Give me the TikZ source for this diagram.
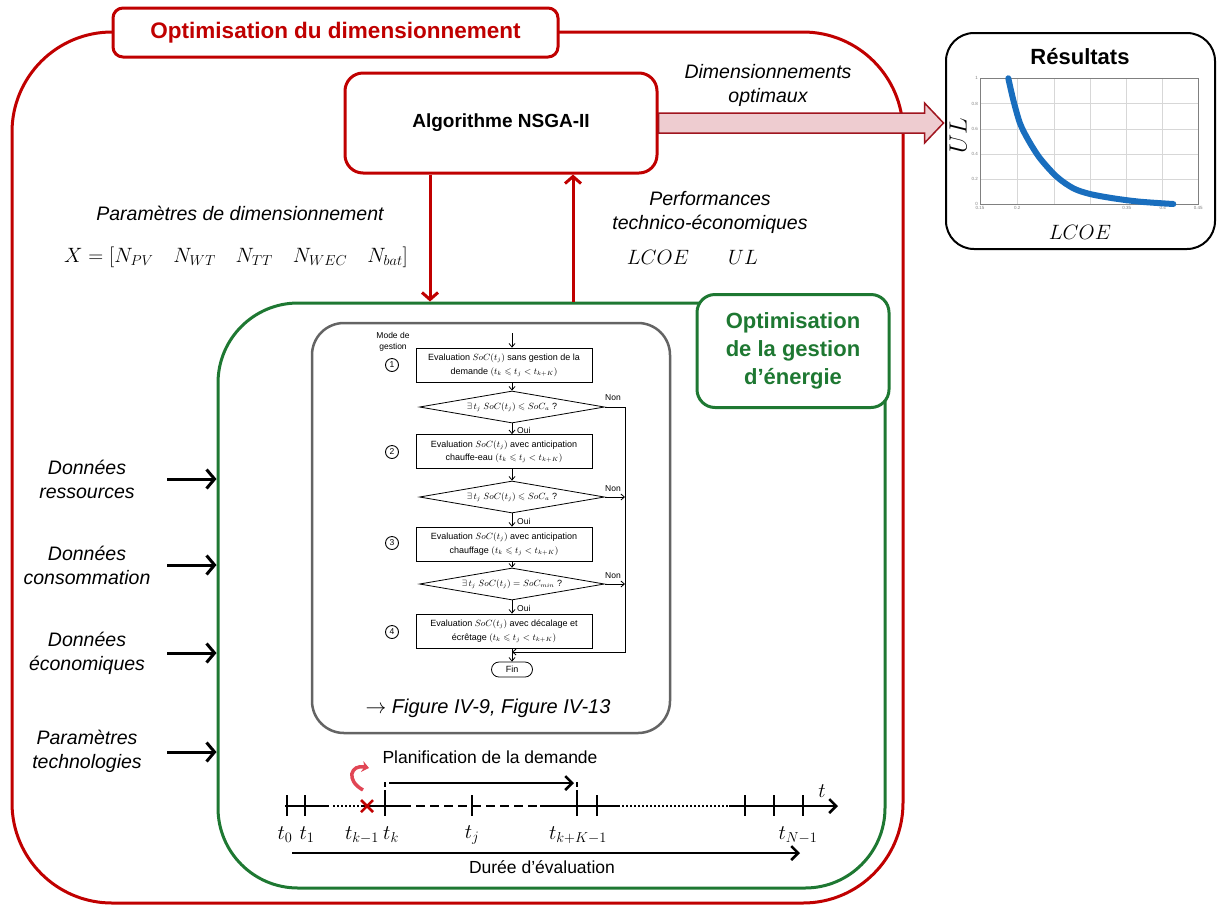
\documentclass[tikz,border=0pt]{standalone}
\usepackage{fontspec}
\setmainfont{Liberation Sans}
\usepackage{amsmath,amssymb}
\usetikzlibrary{arrows.meta,shapes.geometric,calc}
\definecolor{myred}{RGB}{192,0,0}
\definecolor{mygreen}{RGB}{30,120,50}
\definecolor{mygray}{RGB}{100,100,100}
\definecolor{myblue}{RGB}{25,110,190}
\definecolor{pinkfill}{RGB}{238,204,208}
\definecolor{darkred}{RGB}{160,20,30}
\definecolor{gridgray}{RGB}{215,215,215}
\definecolor{arrred}{RGB}{225,70,85}
\begin{document}
\begin{tikzpicture}[x=1pt,y=-1pt,
  redline/.style={draw=myred, line width=3pt},
  outerbox/.style={redline, rounded corners=100pt, inner sep=0pt},
  titlebox/.style={redline, fill=white, rounded corners=10pt, font=\fontsize{22.5}{26}\selectfont\bfseries, text=myred, inner sep=0pt},
  nsgabox/.style={redline, fill=white, rounded corners=18pt, font=\fontsize{19}{23}\selectfont\bfseries, inner sep=0pt},
  resbox/.style={draw=black, line width=2pt, rounded corners=28pt, fill=white, inner sep=0pt},
  greenbox/.style={draw=mygreen, line width=3pt, rounded corners=80pt, inner sep=0pt},
  greenlabel/.style={draw=mygreen, line width=3pt, rounded corners=18pt, fill=white, text=mygreen, font=\fontsize{22}{28}\selectfont\bfseries, align=center, inner sep=0pt},
  graybox/.style={draw=mygray, line width=2.5pt, rounded corners=32pt, inner sep=0pt},
  itext/.style={font=\fontsize{19.5}{24}\selectfont\itshape, align=center, inner sep=0pt},
  mtext/.style={font=\fontsize{20}{24}\selectfont, inner sep=0pt},
  redarr/.style={draw=myred, line width=3pt, -{Straight Barb[length=7pt,width=16pt]}},
  blkarr/.style={draw=black, line width=3pt, -{Straight Barb[length=8pt,width=19pt]}},
  tlarr/.style={draw=black, line width=2.5pt, -{Straight Barb[length=7pt,width=14pt]}},
  tl/.style={draw=black, line width=2.5pt},
  tick/.style={draw=black, line width=2pt},
  fbox/.style={draw, line width=0.8pt, minimum width=176pt, minimum height=34pt, inner sep=0pt, align=center, font=\fontsize{9}{13.5}\selectfont},
  fdia/.style={draw, line width=0.8pt, diamond, aspect=5.8, minimum width=185pt, minimum height=32pt, inner sep=0pt, font=\fontsize{9}{11}\selectfont},
  farr/.style={draw, line width=0.8pt, -{Straight Barb[length=3.5pt,width=6pt]}},
  flabel/.style={font=\fontsize{8.5}{11}\selectfont, inner sep=0pt},
  circnum/.style={draw, circle, line width=0.9pt, minimum size=13pt, inner sep=0pt, font=\fontsize{8.5}{9}\selectfont},
  tlabel/.style={font=\fontsize{17.5}{21}\selectfont, inner sep=0pt},
  tmath/.style={font=\fontsize{19.5}{22}\selectfont, inner sep=0pt},
  ticklab/.style={font=\fontsize{4.5}{5}\selectfont, text=gray, inner sep=0pt}
]
\useasboundingbox (0,0) rectangle (1218,906);

% outer red container
\node[outerbox, minimum width=891pt, minimum height=871pt] (outer) at (457.5,467.5) {};
\node[titlebox, minimum width=445pt, minimum height=49pt] (title) at (335.5,32.5) {Optimisation du dimensionnement};

% NSGA-II
\node[nsgabox, minimum width=312pt, minimum height=100pt] (nsga) at (501,123) {Algorithme NSGA-II};

% results box
\node[resbox, minimum width=269pt, minimum height=216pt] (res) at (1080.5,141) {};
\node[font=\fontsize{22}{26}\selectfont\bfseries, inner sep=0pt] (restitle) at (1080,57) {Résultats};

% wide arrow NSGA -> results
\draw[draw=darkred, line width=1.5pt, fill=pinkfill]
  (nsga.east) ++(0,-10) -- ++(266,0) -- ++(0,-10) -- ++(19,20) -- ++(-19,20) -- ++(0,-10) -- ++(-266,0) -- cycle;
\node[itext] (dimopt) at (768,85) {Dimensionnements\\optimaux};

% plot in results
\foreach \gx in {980,1017.3,1054.3,1090.7,1126.7,1162.7,1198.3}
  \draw[gridgray, line width=0.6pt] (\gx,78.3) -- (\gx,204.3);
\foreach \gy in {78.3,103.7,129,154.3,179.3,204.3}
  \draw[gridgray, line width=0.6pt] (980,\gy) -- (1198.3,\gy);
\draw[gray, line width=0.5pt] (980,78.3) rectangle (1198.3,204.3);
\foreach \gy/\lab in {78.3/1,103.7/0.8,129/0.6,154.3/0.4,179.3/0.2,204.3/0}
  \node[ticklab, anchor=east] at (978,\gy) {\lab};
\foreach \gx/\lab in {980/0.15,1017.3/0.2,1126.7/0.35,1162.7/0.4,1198.3/0.45}
  \node[ticklab, anchor=north] at (\gx,206.5) {\lab};
\draw[myblue, line width=6pt, line cap=round, line join=round] plot[smooth] coordinates
  {(1008.3,78.3) (1013.3,100) (1020,123.3) (1028.3,140) (1040,158.3) (1056.7,176.7) (1073.3,188.3) (1090,194) (1113.3,198.3) (1140,201.7) (1173.3,204)};
\node[rotate=90, font=\fontsize{23}{26}\selectfont, inner sep=0pt] (ulax) at (958,136) {$UL$};
\node[font=\fontsize{22}{26}\selectfont, inner sep=0pt] (lcoeax) at (1080,232) {$LCOE$};

% green container
\node[greenbox, minimum width=667pt, minimum height=585pt] (gbox) at (551.5,595.5) {};
\node[greenlabel, minimum width=192pt, minimum height=113pt] (glabel) at (793,351) {Optimisation\\de la gestion\\d’énergie};

% red vertical arrows
\coordinate (dnX) at (430,0);
\coordinate (upX) at (573,0);
\draw[redarr] (nsga.south -| dnX) -- (gbox.north -| dnX);
\draw[redarr] (gbox.north -| upX) -- (nsga.south -| upX);

% texts between
\node[itext] (params) at (240,213) {Paramètres de dimensionnement};
\node[mtext] (xvec) at (236,257) {$X=[N_{PV}\quad N_{WT}\quad N_{TT}\quad N_{WEC}\quad N_{bat}]$};
\node[itext] (perf) at (710,212) {Performances\\technico-économiques};
\node[mtext] (lcoe) at (658,257) {$LCOE$};
\node[mtext] (ul) at (743,257) {$UL$};

% left inputs
\node[itext] (in1) at (87,479) {Données\\ressources};
\node[itext] (in2) at (87,565) {Données\\consommation};
\node[itext] (in3) at (87,653) {Données\\économiques};
\node[itext] (in4) at (87,751) {Paramètres\\technologies};
\coordinate (a1) at (167,479);
\coordinate (a2) at (167,565);
\coordinate (a3) at (167,653);
\coordinate (a4) at (167,752);
\foreach \a in {a1,a2,a3,a4}
  \draw[blkarr] (\a) -- (\a -| gbox.west);

% gray flowchart box
\node[graybox, minimum width=358pt, minimum height=410pt] (fbx) at (491,528) {};
\coordinate (flowx) at (512,0);
\coordinate (fstart) at (512,333);
\node[flabel, align=center] (mode) at (393,342) {Mode de\\gestion};
\node[fbox] (b1) at (504,365) {Evaluation $SoC(t_j)$ sans gestion de la\\demande $(t_k \leqslant t_j < t_{k+K})$};
\node[fdia] (d1) at (512,407) {$\exists\, t_j\ SoC(t_j) \leqslant SoC_a$ ?};
\node[fbox] (b2) at (504,451.5) {Evaluation $SoC(t_j)$ avec anticipation\\chauffe-eau $(t_k \leqslant t_j < t_{k+K})$};
\node[fdia] (d2) at (512,497) {$\exists\, t_j\ SoC(t_j) \leqslant SoC_a$ ?};
\node[fbox] (b3) at (504,544) {Evaluation $SoC(t_j)$ avec anticipation\\chauffage $(t_k \leqslant t_j < t_{k+K})$};
\node[fdia] (d3) at (512,584) {$\exists\, t_j\ SoC(t_j) = SoC_{min}$ ?};
\node[fbox] (b4) at (504,631) {Evaluation $SoC(t_j)$ avec décalage et\\écrêtage $(t_k \leqslant t_j < t_{k+K})$};
\node[draw, line width=0.8pt, rounded corners=7.5pt, minimum width=41pt, minimum height=15pt, inner sep=0pt, font=\fontsize{9}{11}\selectfont] (fin) at (512,669.5) {Fin};
\node[circnum] (c1) at (392,365) {1};
\node[circnum] (c2) at (392,452) {2};
\node[circnum] (c3) at (392,543) {3};
\node[circnum] (c4) at (392,632) {4};
\coordinate (merge) at (512,652);
\coordinate (rcol) at (625,652);

\draw[farr] (fstart) -- (b1.north -| flowx);
\draw[farr] (b1.south -| flowx) -- (d1.north);
\draw[farr] (d1.south) -- (b2.north -| flowx);
\draw[farr] (b2.south -| flowx) -- (d2.north);
\draw[farr] (d2.south) -- (b3.north -| flowx);
\draw[farr] (b3.south -| flowx) -- (d3.north);
\draw[farr] (d3.south) -- (b4.north -| flowx);
\draw[farr] (b4.south -| flowx) -- (fin.north);
\draw[farr] (d1.east) -| (rcol) -- (merge);
\draw[farr] (d2.east) -- (d2.east -| rcol);
\draw[farr] (d3.east) -- (d3.east -| rcol);
\node[flabel] (non1) at (613,398) {Non};
\node[flabel] (non2) at (613,489) {Non};
\node[flabel] (non3) at (613,576) {Non};
\node[flabel, anchor=west] (oui1) at (517,430) {Oui};
\node[flabel, anchor=west] (oui2) at (517,521) {Oui};
\node[flabel, anchor=west] (oui3) at (517,608) {Oui};
\node[font=\fontsize{20}{24}\selectfont\itshape, inner sep=0pt] (figref) at (488,708) {$\rightarrow$ Figure IV-9, Figure IV-13};

% timeline
\node[tlabel] (planif) at (490,757) {Planification de la demande};
\coordinate (tk) at (385,806);
\coordinate (tkK) at (577,806);
\draw[tl] (285,806) -- (329,806);
\draw[tl, dash pattern=on 2pt off 2pt] (333,806) -- (362,806);
\draw[tl] (362,806) -- (402,806);
\draw[tl, dash pattern=on 9pt off 5pt] (402,806) -- (540,806);
\draw[tl] (540,806) -- (620,806);
\draw[tl, dash pattern=on 2pt off 2pt] (622,806) -- (729,806);
\coordinate (axend) at (838,806);
\draw[tlarr] (729,806) -- (axend);
\foreach \tx in {287,305,385,472,577,597,745,774,803}
  \draw[tick] (\tx,795) -- (\tx,816);
\draw[tick, dash pattern=on 5pt off 3pt] ($(tk)+(0,-24)$) -- ($(tk)+(0,-6)$);
\draw[tick, dash pattern=on 5pt off 3pt] ($(tkK)+(0,-24)$) -- ($(tkK)+(0,-6)$);
\draw[tlarr] ($(tk)+(4,-23)$) -- ($(tkK)+(-3,-23)$);
% red cross
\coordinate (xk) at (367,806);
\draw[myred, line width=2.5pt] ($(xk)+(-6,-6)$) -- ($(xk)+(6,6)$) ($(xk)+(-6,6)$) -- ($(xk)+(6,-6)$);
\draw[arrred, line width=3.5pt, -{Stealth[length=7pt,width=11pt]}] ($(xk)+(-4,-16)$) .. controls ($(xk)+(-22,-26)$) and ($(xk)+(-16,-42)$) .. ($(xk)+(2,-38)$);
% labels
\node[tmath] at (285,835) {$t_0$};
\node[tmath] at (307,835) {$t_1$};
\node[tmath] at (362,835) {$t_{k-1}$};
\node[tmath] at (391,835) {$t_k$};
\node[tmath] at (472,835) {$t_j$};
\node[tmath] at (578,835) {$t_{k+K-1}$};
\node[tmath] at (798,835) {$t_{N-1}$};
\node[tmath] at (822,791) {$t$};
\coordinate (ds) at (292,853);
\coordinate (de) at (800,853);
\draw[tlarr] (ds) -- (de);
\node[tlabel] (duree) at (542,867) {Durée d’évaluation};
\end{tikzpicture}
\end{document}
